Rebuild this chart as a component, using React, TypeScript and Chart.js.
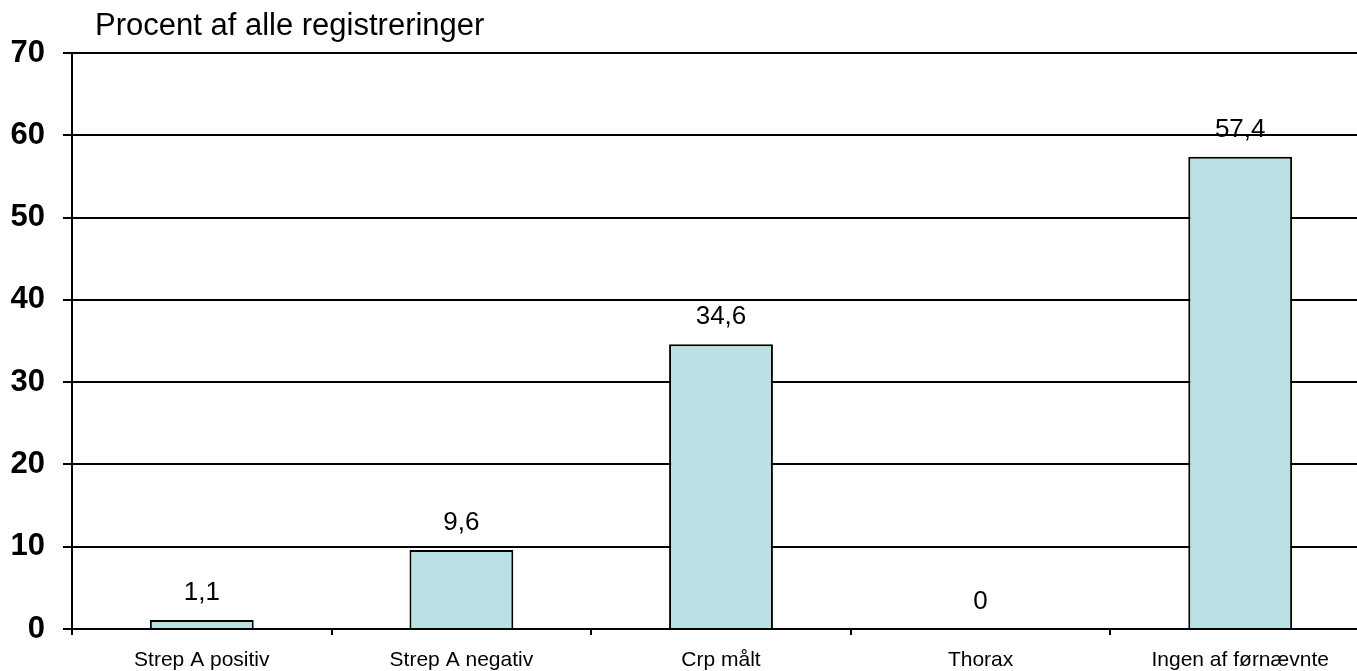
import React, { useEffect, useRef } from "react";
import { Chart, registerables } from "chart.js";

Chart.register(...registerables);

const categories = ["Strep A positiv", "Strep A negativ", "Crp målt", "Thorax", "Ingen af førnævnte"];
const values = [1.1, 9.6, 34.6, 0, 57.4];
const yTicks = [0, 10, 20, 30, 40, 50, 60, 70];
const titleText = "Procent af alle registreringer";

const FONT = "'Liberation Sans', Arial, sans-serif";

export default function App() {
  const ref = useRef<HTMLCanvasElement | null>(null);

  useEffect(() => {
    const canvas = ref.current;
    if (!canvas) return;

    const labelsPlugin = {
      id: "valueLabels",
      afterDatasetsDraw(chart: any) {
        const ctx = chart.ctx;
        const meta = chart.getDatasetMeta(0);
        ctx.save();
        ctx.font = `26px ${FONT}`;
        ctx.fillStyle = "#000";
        ctx.textAlign = "center";
        ctx.textBaseline = "alphabetic";
        meta.data.forEach((el: any, i: number) => {
          const v = values[i];
          const txt = String(v).replace(".", ",");
          ctx.fillText(txt, el.x, el.y - 20);
        });
        ctx.restore();
      },
      afterDraw(chart: any) {
        const ctx = chart.ctx;
        ctx.save();
        ctx.font = `31px ${FONT}`;
        ctx.fillStyle = "#000";
        ctx.textAlign = "left";
        ctx.textBaseline = "alphabetic";
        ctx.fillText(titleText, 95, 35);
        ctx.restore();
      },
    };

    const chart = new Chart(canvas, {
      type: "bar",
      data: {
        labels: categories,
        datasets: [
          {
            data: values,
            backgroundColor: "#B9E0E3",
            borderColor: "#000",
            borderWidth: 2,
            barPercentage: 0.4,
            categoryPercentage: 1,
          },
        ],
      },
      options: {
        responsive: false,
        animation: false,
        layout: { padding: { top: 53, right: 0, left: 0, bottom: 0 } },
        plugins: {
          legend: { display: false },
          tooltip: { enabled: false },
          title: { display: false },
        },
        scales: {
          x: {
            afterFit(scale: any) {
              scale.height = 42;
            },
            grid: {
              offset: true,
              drawOnChartArea: false,
              drawTicks: true,
              tickLength: 6,
              color: "#000",
              lineWidth: 2,
            },
            border: { display: true, color: "#000", width: 2 },
            ticks: {
              color: "#000",
              font: { family: FONT, size: 21 },
              padding: 13,
              maxRotation: 0,
              autoSkip: false,
            },
          },
          y: {
            min: 0,
            max: 70,
            afterFit(scale: any) {
              scale.width = 72;
            },
            afterBuildTicks(scale: any) {
              scale.ticks = yTicks.map((v) => ({ value: v }));
            },
            grid: {
              color: "#000",
              lineWidth: 2,
              tickLength: 9,
              drawTicks: true,
            },
            border: { display: true, color: "#000", width: 2 },
            ticks: {
              color: "#000",
              font: { family: FONT, size: 31, weight: "bold" },
              padding: 18,
            },
          },
        },
      },
      plugins: [labelsPlugin],
    });

    return () => chart.destroy();
  }, []);

  return (
    <div
      style={{
        position: "fixed",
        left: 0,
        top: 0,
        width: 1357,
        height: 671,
        overflow: "hidden",
        background: "#fff",
      }}
    >
      <canvas ref={ref} width={1370} height={671} style={{ width: 1370, height: 671, display: "block" }} />
    </div>
  );
}
